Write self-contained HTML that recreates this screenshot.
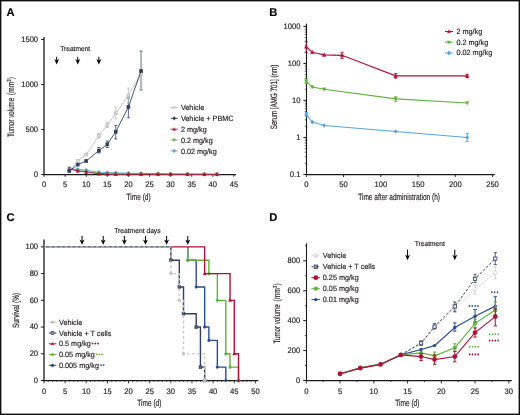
<!DOCTYPE html>
<html><head><meta charset="utf-8"><style>
html,body{margin:0;padding:0;background:#fff;}
body{width:520px;height:415px;overflow:hidden;font-family:"Liberation Sans",sans-serif;}
svg{display:block;will-change:transform;}
text{stroke:#231f20;stroke-width:0.18px;text-rendering:geometricPrecision;}
</style></head><body>
<svg width="520" height="415" viewBox="0 0 520 415" font-family="Liberation Sans, sans-serif">
<rect x="0" y="0" width="520" height="415" fill="#fff"/>
<text x="6.60" y="15.80" font-size="11.2" text-anchor="start" fill="#000" font-weight="bold">A</text>
<line x1="44.00" y1="36.90" x2="44.00" y2="175.10" stroke="#1a1a1a" stroke-width="1.3" />
<line x1="43.40" y1="174.50" x2="236.00" y2="174.50" stroke="#1a1a1a" stroke-width="1.25" />
<line x1="41.20" y1="174.50" x2="44.00" y2="174.50" stroke="#1a1a1a" stroke-width="1" />
<text transform="translate(38.10,176.90) scale(0.95,1)" font-size="8.0" text-anchor="end" fill="#231f20">0</text>
<line x1="41.20" y1="129.50" x2="44.00" y2="129.50" stroke="#1a1a1a" stroke-width="1" />
<text transform="translate(38.10,131.90) scale(0.95,1)" font-size="8.0" text-anchor="end" fill="#231f20">500</text>
<line x1="41.20" y1="84.50" x2="44.00" y2="84.50" stroke="#1a1a1a" stroke-width="1" />
<text transform="translate(38.10,86.90) scale(0.95,1)" font-size="8.0" text-anchor="end" fill="#231f20">1000</text>
<line x1="41.20" y1="39.50" x2="44.00" y2="39.50" stroke="#1a1a1a" stroke-width="1" />
<text transform="translate(38.10,41.90) scale(0.95,1)" font-size="8.0" text-anchor="end" fill="#231f20">1500</text>
<line x1="44.00" y1="174.50" x2="44.00" y2="176.80" stroke="#1a1a1a" stroke-width="0.9" />
<text transform="translate(44.00,186.90) scale(0.95,1)" font-size="8.0" text-anchor="middle" fill="#231f20">0</text>
<line x1="65.10" y1="174.50" x2="65.10" y2="176.80" stroke="#1a1a1a" stroke-width="0.9" />
<text transform="translate(65.10,186.90) scale(0.95,1)" font-size="8.0" text-anchor="middle" fill="#231f20">5</text>
<line x1="86.20" y1="174.50" x2="86.20" y2="176.80" stroke="#1a1a1a" stroke-width="0.9" />
<text transform="translate(86.20,186.90) scale(0.95,1)" font-size="8.0" text-anchor="middle" fill="#231f20">10</text>
<line x1="107.30" y1="174.50" x2="107.30" y2="176.80" stroke="#1a1a1a" stroke-width="0.9" />
<text transform="translate(107.30,186.90) scale(0.95,1)" font-size="8.0" text-anchor="middle" fill="#231f20">15</text>
<line x1="128.40" y1="174.50" x2="128.40" y2="176.80" stroke="#1a1a1a" stroke-width="0.9" />
<text transform="translate(128.40,186.90) scale(0.95,1)" font-size="8.0" text-anchor="middle" fill="#231f20">20</text>
<line x1="149.50" y1="174.50" x2="149.50" y2="176.80" stroke="#1a1a1a" stroke-width="0.9" />
<text transform="translate(149.50,186.90) scale(0.95,1)" font-size="8.0" text-anchor="middle" fill="#231f20">25</text>
<line x1="170.60" y1="174.50" x2="170.60" y2="176.80" stroke="#1a1a1a" stroke-width="0.9" />
<text transform="translate(170.60,186.90) scale(0.95,1)" font-size="8.0" text-anchor="middle" fill="#231f20">30</text>
<line x1="191.70" y1="174.50" x2="191.70" y2="176.80" stroke="#1a1a1a" stroke-width="0.9" />
<text transform="translate(191.70,186.90) scale(0.95,1)" font-size="8.0" text-anchor="middle" fill="#231f20">35</text>
<line x1="212.80" y1="174.50" x2="212.80" y2="176.80" stroke="#1a1a1a" stroke-width="0.9" />
<text transform="translate(212.80,186.90) scale(0.95,1)" font-size="8.0" text-anchor="middle" fill="#231f20">40</text>
<line x1="233.90" y1="174.50" x2="233.90" y2="176.80" stroke="#1a1a1a" stroke-width="0.9" />
<text transform="translate(233.90,186.90) scale(0.95,1)" font-size="8.0" text-anchor="middle" fill="#231f20">45</text>
<text transform="translate(138.60,199.80) scale(0.715,1)" font-size="9.2" text-anchor="middle" fill="#231f20">Time (d)</text>
<text transform="translate(14.10,137.00) rotate(-90) scale(0.67,1)" font-size="9.2" fill="#231f20">Tumor volume</text>
<text transform="translate(14.10,95.30) rotate(-90) scale(0.74,1)" font-size="9.2" fill="#231f20">(mm<tspan font-size="5.8" dy="-3.6">3</tspan><tspan dy="3.6">)</tspan></text>
<text x="60.20" y="51.20" font-size="7.0" text-anchor="start" fill="#231f20" textLength="30" lengthAdjust="spacingAndGlyphs">Treatment</text>
<line x1="56.66" y1="56.80" x2="56.66" y2="61.40" stroke="#000" stroke-width="1.0" />
<polygon points="54.16,59.00 56.66,60.50 59.16,59.00 56.66,64.40" fill="#000"/>
<line x1="77.76" y1="56.80" x2="77.76" y2="61.40" stroke="#000" stroke-width="1.0" />
<polygon points="75.26,59.00 77.76,60.50 80.26,59.00 77.76,64.40" fill="#000"/>
<line x1="98.86" y1="56.80" x2="98.86" y2="61.40" stroke="#000" stroke-width="1.0" />
<polygon points="96.36,59.00 98.86,60.50 101.36,59.00 98.86,64.40" fill="#000"/>
<polyline points="69.32,168.92 77.76,169.28 86.20,170.18 98.86,172.25 107.30,172.52 115.74,172.70 128.40,173.15 141.06,173.42 157.94,173.60 170.60,173.96 187.48,174.14 204.36,174.23 217.02,174.23" fill="none" stroke="#58a3dc" stroke-width="0.9" stroke-linejoin="miter" />
<polygon points="69.32,167.12 70.82,168.92 69.32,170.72 67.82,168.92" fill="#58a3dc" stroke="#58a3dc" stroke-width="0.8"/>
<polygon points="77.76,167.48 79.26,169.28 77.76,171.08 76.26,169.28" fill="#58a3dc" stroke="#58a3dc" stroke-width="0.8"/>
<polygon points="86.20,168.38 87.70,170.18 86.20,171.98 84.70,170.18" fill="#58a3dc" stroke="#58a3dc" stroke-width="0.8"/>
<polygon points="98.86,170.45 100.36,172.25 98.86,174.05 97.36,172.25" fill="#58a3dc" stroke="#58a3dc" stroke-width="0.8"/>
<polygon points="107.30,170.72 108.80,172.52 107.30,174.32 105.80,172.52" fill="#58a3dc" stroke="#58a3dc" stroke-width="0.8"/>
<polygon points="115.74,170.90 117.24,172.70 115.74,174.50 114.24,172.70" fill="#58a3dc" stroke="#58a3dc" stroke-width="0.8"/>
<polygon points="128.40,171.35 129.90,173.15 128.40,174.95 126.90,173.15" fill="#58a3dc" stroke="#58a3dc" stroke-width="0.8"/>
<polygon points="141.06,171.62 142.56,173.42 141.06,175.22 139.56,173.42" fill="#58a3dc" stroke="#58a3dc" stroke-width="0.8"/>
<polygon points="157.94,171.80 159.44,173.60 157.94,175.40 156.44,173.60" fill="#58a3dc" stroke="#58a3dc" stroke-width="0.8"/>
<polygon points="170.60,172.16 172.10,173.96 170.60,175.76 169.10,173.96" fill="#58a3dc" stroke="#58a3dc" stroke-width="0.8"/>
<polygon points="187.48,172.34 188.98,174.14 187.48,175.94 185.98,174.14" fill="#58a3dc" stroke="#58a3dc" stroke-width="0.8"/>
<polygon points="204.36,172.43 205.86,174.23 204.36,176.03 202.86,174.23" fill="#58a3dc" stroke="#58a3dc" stroke-width="0.8"/>
<polygon points="217.02,172.43 218.52,174.23 217.02,176.03 215.52,174.23" fill="#58a3dc" stroke="#58a3dc" stroke-width="0.8"/>
<polyline points="69.32,168.02 77.76,170.45 86.20,171.80 98.86,173.42 107.30,173.78 115.74,173.96 128.40,174.05 141.06,174.05 157.94,174.14 170.60,174.23 187.48,174.23 204.36,174.32 217.02,174.32" fill="none" stroke="#62b03f" stroke-width="0.9" stroke-linejoin="miter" />
<polygon points="69.32,169.89 71.02,166.66 67.62,166.66" fill="#62b03f" stroke="#62b03f" stroke-width="0.4"/>
<polygon points="77.76,172.32 79.46,169.09 76.06,169.09" fill="#62b03f" stroke="#62b03f" stroke-width="0.4"/>
<polygon points="86.20,173.67 87.90,170.44 84.50,170.44" fill="#62b03f" stroke="#62b03f" stroke-width="0.4"/>
<polygon points="98.86,175.29 100.56,172.06 97.16,172.06" fill="#62b03f" stroke="#62b03f" stroke-width="0.4"/>
<polygon points="107.30,175.65 109.00,172.42 105.60,172.42" fill="#62b03f" stroke="#62b03f" stroke-width="0.4"/>
<polygon points="115.74,175.83 117.44,172.60 114.04,172.60" fill="#62b03f" stroke="#62b03f" stroke-width="0.4"/>
<polygon points="128.40,175.92 130.10,172.69 126.70,172.69" fill="#62b03f" stroke="#62b03f" stroke-width="0.4"/>
<polygon points="141.06,175.92 142.76,172.69 139.36,172.69" fill="#62b03f" stroke="#62b03f" stroke-width="0.4"/>
<polygon points="157.94,176.01 159.64,172.78 156.24,172.78" fill="#62b03f" stroke="#62b03f" stroke-width="0.4"/>
<polygon points="170.60,176.10 172.30,172.87 168.90,172.87" fill="#62b03f" stroke="#62b03f" stroke-width="0.4"/>
<polygon points="187.48,176.10 189.18,172.87 185.78,172.87" fill="#62b03f" stroke="#62b03f" stroke-width="0.4"/>
<polygon points="204.36,176.19 206.06,172.96 202.66,172.96" fill="#62b03f" stroke="#62b03f" stroke-width="0.4"/>
<polygon points="217.02,176.19 218.72,172.96 215.32,172.96" fill="#62b03f" stroke="#62b03f" stroke-width="0.4"/>
<polyline points="69.32,168.92 77.76,170.90 86.20,171.98 98.86,173.78 107.30,174.14 115.74,174.23 128.40,174.32 141.06,174.32 157.94,174.32 170.60,174.32 187.48,174.32 204.36,174.32 217.02,174.32" fill="none" stroke="#ad1238" stroke-width="0.9" stroke-linejoin="miter" />
<polygon points="69.32,166.94 71.12,170.36 67.52,170.36" fill="#ad1238" stroke="#ad1238" stroke-width="0.4"/>
<polygon points="77.76,168.92 79.56,172.34 75.96,172.34" fill="#ad1238" stroke="#ad1238" stroke-width="0.4"/>
<polygon points="86.20,170.00 88.00,173.42 84.40,173.42" fill="#ad1238" stroke="#ad1238" stroke-width="0.4"/>
<polygon points="98.86,171.80 100.66,175.22 97.06,175.22" fill="#ad1238" stroke="#ad1238" stroke-width="0.4"/>
<polygon points="107.30,172.16 109.10,175.58 105.50,175.58" fill="#ad1238" stroke="#ad1238" stroke-width="0.4"/>
<polygon points="115.74,172.25 117.54,175.67 113.94,175.67" fill="#ad1238" stroke="#ad1238" stroke-width="0.4"/>
<polygon points="128.40,172.34 130.20,175.76 126.60,175.76" fill="#ad1238" stroke="#ad1238" stroke-width="0.4"/>
<polygon points="141.06,172.34 142.86,175.76 139.26,175.76" fill="#ad1238" stroke="#ad1238" stroke-width="0.4"/>
<polygon points="157.94,172.34 159.74,175.76 156.14,175.76" fill="#ad1238" stroke="#ad1238" stroke-width="0.4"/>
<polygon points="170.60,172.34 172.40,175.76 168.80,175.76" fill="#ad1238" stroke="#ad1238" stroke-width="0.4"/>
<polygon points="187.48,172.34 189.28,175.76 185.68,175.76" fill="#ad1238" stroke="#ad1238" stroke-width="0.4"/>
<polygon points="204.36,172.34 206.16,175.76 202.56,175.76" fill="#ad1238" stroke="#ad1238" stroke-width="0.4"/>
<polygon points="217.02,172.34 218.82,175.76 215.22,175.76" fill="#ad1238" stroke="#ad1238" stroke-width="0.4"/>
<line x1="98.86" y1="147.50" x2="98.86" y2="152.90" stroke="#333f5e" stroke-width="0.8" />
<line x1="97.36" y1="147.50" x2="100.36" y2="147.50" stroke="#333f5e" stroke-width="0.8" />
<line x1="97.36" y1="152.90" x2="100.36" y2="152.90" stroke="#333f5e" stroke-width="0.8" />
<line x1="107.30" y1="141.20" x2="107.30" y2="147.50" stroke="#333f5e" stroke-width="0.8" />
<line x1="105.80" y1="141.20" x2="108.80" y2="141.20" stroke="#333f5e" stroke-width="0.8" />
<line x1="105.80" y1="147.50" x2="108.80" y2="147.50" stroke="#333f5e" stroke-width="0.8" />
<line x1="115.74" y1="125.45" x2="115.74" y2="138.95" stroke="#333f5e" stroke-width="0.8" />
<line x1="114.24" y1="125.45" x2="117.24" y2="125.45" stroke="#333f5e" stroke-width="0.8" />
<line x1="114.24" y1="138.95" x2="117.24" y2="138.95" stroke="#333f5e" stroke-width="0.8" />
<line x1="128.40" y1="98.00" x2="128.40" y2="117.80" stroke="#333f5e" stroke-width="0.8" />
<line x1="126.90" y1="98.00" x2="129.90" y2="98.00" stroke="#333f5e" stroke-width="0.8" />
<line x1="126.90" y1="117.80" x2="129.90" y2="117.80" stroke="#333f5e" stroke-width="0.8" />
<line x1="141.06" y1="51.20" x2="141.06" y2="89.90" stroke="#333f5e" stroke-width="0.8" />
<line x1="139.56" y1="51.20" x2="142.56" y2="51.20" stroke="#333f5e" stroke-width="0.8" />
<line x1="139.56" y1="89.90" x2="142.56" y2="89.90" stroke="#333f5e" stroke-width="0.8" />
<line x1="98.86" y1="133.55" x2="98.86" y2="138.05" stroke="#bdbdbd" stroke-width="0.8" />
<line x1="97.36" y1="133.55" x2="100.36" y2="133.55" stroke="#bdbdbd" stroke-width="0.8" />
<line x1="97.36" y1="138.05" x2="100.36" y2="138.05" stroke="#bdbdbd" stroke-width="0.8" />
<line x1="107.30" y1="122.30" x2="107.30" y2="127.70" stroke="#bdbdbd" stroke-width="0.8" />
<line x1="105.80" y1="122.30" x2="108.80" y2="122.30" stroke="#bdbdbd" stroke-width="0.8" />
<line x1="105.80" y1="127.70" x2="108.80" y2="127.70" stroke="#bdbdbd" stroke-width="0.8" />
<line x1="115.74" y1="107.00" x2="115.74" y2="118.70" stroke="#bdbdbd" stroke-width="0.8" />
<line x1="114.24" y1="107.00" x2="117.24" y2="107.00" stroke="#bdbdbd" stroke-width="0.8" />
<line x1="114.24" y1="118.70" x2="117.24" y2="118.70" stroke="#bdbdbd" stroke-width="0.8" />
<line x1="128.40" y1="88.10" x2="128.40" y2="103.40" stroke="#bdbdbd" stroke-width="0.8" />
<line x1="126.90" y1="88.10" x2="129.90" y2="88.10" stroke="#bdbdbd" stroke-width="0.8" />
<line x1="126.90" y1="103.40" x2="129.90" y2="103.40" stroke="#bdbdbd" stroke-width="0.8" />
<line x1="141.06" y1="50.30" x2="141.06" y2="90.80" stroke="#bdbdbd" stroke-width="0.8" />
<line x1="139.56" y1="50.30" x2="142.56" y2="50.30" stroke="#bdbdbd" stroke-width="0.8" />
<line x1="139.56" y1="90.80" x2="142.56" y2="90.80" stroke="#bdbdbd" stroke-width="0.8" />
<polyline points="69.32,170.45 77.76,161.00 86.20,154.52 98.86,135.80 107.30,125.00 115.74,113.30 128.40,95.30 141.06,73.70" fill="none" stroke="#bdbdbd" stroke-width="0.9" stroke-linejoin="miter" />
<rect x="67.92" y="169.05" width="2.80" height="2.80" fill="#dcdcdc" stroke="#bdbdbd" stroke-width="0.8"/>
<rect x="76.36" y="159.60" width="2.80" height="2.80" fill="#dcdcdc" stroke="#bdbdbd" stroke-width="0.8"/>
<rect x="84.80" y="153.12" width="2.80" height="2.80" fill="#dcdcdc" stroke="#bdbdbd" stroke-width="0.8"/>
<rect x="97.46" y="134.40" width="2.80" height="2.80" fill="#dcdcdc" stroke="#bdbdbd" stroke-width="0.8"/>
<rect x="105.90" y="123.60" width="2.80" height="2.80" fill="#dcdcdc" stroke="#bdbdbd" stroke-width="0.8"/>
<rect x="114.34" y="111.90" width="2.80" height="2.80" fill="#dcdcdc" stroke="#bdbdbd" stroke-width="0.8"/>
<rect x="127.00" y="93.90" width="2.80" height="2.80" fill="#dcdcdc" stroke="#bdbdbd" stroke-width="0.8"/>
<rect x="139.66" y="72.30" width="2.80" height="2.80" fill="#dcdcdc" stroke="#bdbdbd" stroke-width="0.8"/>
<polyline points="69.32,170.90 77.76,164.60 86.20,161.00 98.86,150.65 107.30,144.35 115.74,131.75 128.40,107.00 141.06,71.00" fill="none" stroke="#333f5e" stroke-width="0.9" stroke-linejoin="miter" />
<rect x="67.92" y="169.50" width="2.80" height="2.80" fill="#333f5e" stroke="#333f5e" stroke-width="0.8"/>
<rect x="76.36" y="163.20" width="2.80" height="2.80" fill="#333f5e" stroke="#333f5e" stroke-width="0.8"/>
<rect x="84.80" y="159.60" width="2.80" height="2.80" fill="#333f5e" stroke="#333f5e" stroke-width="0.8"/>
<rect x="97.46" y="149.25" width="2.80" height="2.80" fill="#333f5e" stroke="#333f5e" stroke-width="0.8"/>
<rect x="105.90" y="142.95" width="2.80" height="2.80" fill="#333f5e" stroke="#333f5e" stroke-width="0.8"/>
<rect x="114.34" y="130.35" width="2.80" height="2.80" fill="#333f5e" stroke="#333f5e" stroke-width="0.8"/>
<rect x="127.00" y="105.60" width="2.80" height="2.80" fill="#333f5e" stroke="#333f5e" stroke-width="0.8"/>
<rect x="139.66" y="69.60" width="2.80" height="2.80" fill="#333f5e" stroke="#333f5e" stroke-width="0.8"/>
<line x1="170.60" y1="107.50" x2="177.80" y2="107.50" stroke="#bdbdbd" stroke-width="0.9" />
<polygon points="174.20,105.70 175.70,107.50 174.20,109.30 172.70,107.50" fill="#dcdcdc" stroke="#bdbdbd" stroke-width="0.5"/>
<text transform="translate(180.90,110.40) scale(0.955,1)" font-size="7.6" fill="#231f20">Vehicle</text>
<line x1="170.60" y1="118.35" x2="177.80" y2="118.35" stroke="#333f5e" stroke-width="0.9" />
<polygon points="174.20,116.55 175.70,118.35 174.20,120.15 172.70,118.35" fill="#333f5e" stroke="#333f5e" stroke-width="0.5"/>
<text transform="translate(180.90,121.25) scale(0.955,1)" font-size="7.6" fill="#231f20">Vehicle + PBMC</text>
<line x1="170.60" y1="129.20" x2="177.80" y2="129.20" stroke="#ad1238" stroke-width="0.9" />
<polygon points="174.20,127.55 175.70,130.40 172.70,130.40" fill="#ad1238" stroke="#ad1238" stroke-width="0.25"/>
<text transform="translate(180.90,132.10) scale(0.955,1)" font-size="7.6" fill="#231f20">2 mg/kg</text>
<line x1="170.60" y1="140.05" x2="177.80" y2="140.05" stroke="#62b03f" stroke-width="0.9" />
<polygon points="174.20,141.70 175.70,138.85 172.70,138.85" fill="#62b03f" stroke="#62b03f" stroke-width="0.25"/>
<text transform="translate(180.90,142.95) scale(0.955,1)" font-size="7.6" fill="#231f20">0.2 mg/kg</text>
<line x1="170.60" y1="150.90" x2="177.80" y2="150.90" stroke="#58a3dc" stroke-width="0.9" />
<polygon points="174.20,149.10 175.70,150.90 174.20,152.70 172.70,150.90" fill="#58a3dc" stroke="#58a3dc" stroke-width="0.5"/>
<text transform="translate(180.90,153.80) scale(0.955,1)" font-size="7.6" fill="#231f20">0.02 mg/kg</text>
<text x="269.30" y="15.80" font-size="11.2" text-anchor="start" fill="#000" font-weight="bold">B</text>
<line x1="306.50" y1="23.70" x2="306.50" y2="175.10" stroke="#1a1a1a" stroke-width="1.1" />
<line x1="305.90" y1="174.50" x2="494.80" y2="174.50" stroke="#1a1a1a" stroke-width="1.25" />
<line x1="303.40" y1="174.48" x2="306.50" y2="174.48" stroke="#1a1a1a" stroke-width="1" />
<text transform="translate(300.40,176.88) scale(0.95,1)" font-size="8.0" text-anchor="end" fill="#231f20">0.1</text>
<line x1="304.80" y1="163.33" x2="306.50" y2="163.33" stroke="#1a1a1a" stroke-width="0.7" />
<line x1="304.80" y1="156.81" x2="306.50" y2="156.81" stroke="#1a1a1a" stroke-width="0.7" />
<line x1="304.80" y1="152.19" x2="306.50" y2="152.19" stroke="#1a1a1a" stroke-width="0.7" />
<line x1="304.80" y1="148.60" x2="306.50" y2="148.60" stroke="#1a1a1a" stroke-width="0.7" />
<line x1="304.80" y1="145.67" x2="306.50" y2="145.67" stroke="#1a1a1a" stroke-width="0.7" />
<line x1="304.80" y1="143.19" x2="306.50" y2="143.19" stroke="#1a1a1a" stroke-width="0.7" />
<line x1="304.80" y1="141.04" x2="306.50" y2="141.04" stroke="#1a1a1a" stroke-width="0.7" />
<line x1="304.80" y1="139.14" x2="306.50" y2="139.14" stroke="#1a1a1a" stroke-width="0.7" />
<line x1="303.40" y1="137.45" x2="306.50" y2="137.45" stroke="#1a1a1a" stroke-width="1" />
<text transform="translate(300.40,139.85) scale(0.95,1)" font-size="8.0" text-anchor="end" fill="#231f20">1</text>
<line x1="304.80" y1="126.30" x2="306.50" y2="126.30" stroke="#1a1a1a" stroke-width="0.7" />
<line x1="304.80" y1="119.78" x2="306.50" y2="119.78" stroke="#1a1a1a" stroke-width="0.7" />
<line x1="304.80" y1="115.16" x2="306.50" y2="115.16" stroke="#1a1a1a" stroke-width="0.7" />
<line x1="304.80" y1="111.57" x2="306.50" y2="111.57" stroke="#1a1a1a" stroke-width="0.7" />
<line x1="304.80" y1="108.64" x2="306.50" y2="108.64" stroke="#1a1a1a" stroke-width="0.7" />
<line x1="304.80" y1="106.16" x2="306.50" y2="106.16" stroke="#1a1a1a" stroke-width="0.7" />
<line x1="304.80" y1="104.01" x2="306.50" y2="104.01" stroke="#1a1a1a" stroke-width="0.7" />
<line x1="304.80" y1="102.11" x2="306.50" y2="102.11" stroke="#1a1a1a" stroke-width="0.7" />
<line x1="303.40" y1="100.42" x2="306.50" y2="100.42" stroke="#1a1a1a" stroke-width="1" />
<text transform="translate(300.40,102.82) scale(0.95,1)" font-size="8.0" text-anchor="end" fill="#231f20">10</text>
<line x1="304.80" y1="89.27" x2="306.50" y2="89.27" stroke="#1a1a1a" stroke-width="0.7" />
<line x1="304.80" y1="82.75" x2="306.50" y2="82.75" stroke="#1a1a1a" stroke-width="0.7" />
<line x1="304.80" y1="78.13" x2="306.50" y2="78.13" stroke="#1a1a1a" stroke-width="0.7" />
<line x1="304.80" y1="74.54" x2="306.50" y2="74.54" stroke="#1a1a1a" stroke-width="0.7" />
<line x1="304.80" y1="71.61" x2="306.50" y2="71.61" stroke="#1a1a1a" stroke-width="0.7" />
<line x1="304.80" y1="69.13" x2="306.50" y2="69.13" stroke="#1a1a1a" stroke-width="0.7" />
<line x1="304.80" y1="66.98" x2="306.50" y2="66.98" stroke="#1a1a1a" stroke-width="0.7" />
<line x1="304.80" y1="65.08" x2="306.50" y2="65.08" stroke="#1a1a1a" stroke-width="0.7" />
<line x1="303.40" y1="63.39" x2="306.50" y2="63.39" stroke="#1a1a1a" stroke-width="1" />
<text transform="translate(300.40,65.79) scale(0.95,1)" font-size="8.0" text-anchor="end" fill="#231f20">100</text>
<line x1="304.80" y1="52.24" x2="306.50" y2="52.24" stroke="#1a1a1a" stroke-width="0.7" />
<line x1="304.80" y1="45.72" x2="306.50" y2="45.72" stroke="#1a1a1a" stroke-width="0.7" />
<line x1="304.80" y1="41.10" x2="306.50" y2="41.10" stroke="#1a1a1a" stroke-width="0.7" />
<line x1="304.80" y1="37.51" x2="306.50" y2="37.51" stroke="#1a1a1a" stroke-width="0.7" />
<line x1="304.80" y1="34.58" x2="306.50" y2="34.58" stroke="#1a1a1a" stroke-width="0.7" />
<line x1="304.80" y1="32.10" x2="306.50" y2="32.10" stroke="#1a1a1a" stroke-width="0.7" />
<line x1="304.80" y1="29.95" x2="306.50" y2="29.95" stroke="#1a1a1a" stroke-width="0.7" />
<line x1="304.80" y1="28.05" x2="306.50" y2="28.05" stroke="#1a1a1a" stroke-width="0.7" />
<line x1="303.40" y1="26.36" x2="306.50" y2="26.36" stroke="#1a1a1a" stroke-width="1" />
<text transform="translate(300.40,28.76) scale(0.95,1)" font-size="8.0" text-anchor="end" fill="#231f20">1000</text>
<line x1="306.30" y1="174.50" x2="306.30" y2="177.10" stroke="#1a1a1a" stroke-width="0.9" />
<text transform="translate(306.30,186.90) scale(0.95,1)" font-size="8.0" text-anchor="middle" fill="#231f20">0</text>
<line x1="343.54" y1="174.50" x2="343.54" y2="177.10" stroke="#1a1a1a" stroke-width="0.9" />
<text transform="translate(343.54,186.90) scale(0.95,1)" font-size="8.0" text-anchor="middle" fill="#231f20">50</text>
<line x1="380.78" y1="174.50" x2="380.78" y2="177.10" stroke="#1a1a1a" stroke-width="0.9" />
<text transform="translate(380.78,186.90) scale(0.95,1)" font-size="8.0" text-anchor="middle" fill="#231f20">100</text>
<line x1="418.02" y1="174.50" x2="418.02" y2="177.10" stroke="#1a1a1a" stroke-width="0.9" />
<text transform="translate(418.02,186.90) scale(0.95,1)" font-size="8.0" text-anchor="middle" fill="#231f20">150</text>
<line x1="455.26" y1="174.50" x2="455.26" y2="177.10" stroke="#1a1a1a" stroke-width="0.9" />
<text transform="translate(455.26,186.90) scale(0.95,1)" font-size="8.0" text-anchor="middle" fill="#231f20">200</text>
<line x1="492.50" y1="174.50" x2="492.50" y2="177.10" stroke="#1a1a1a" stroke-width="0.9" />
<text transform="translate(492.50,186.90) scale(0.95,1)" font-size="8.0" text-anchor="middle" fill="#231f20">250</text>
<text transform="translate(399.10,199.80) scale(0.715,1)" font-size="9.2" text-anchor="middle" fill="#231f20">Time after administration (h)</text>
<text transform="translate(277.2,97) rotate(-90) scale(0.68,1)" font-size="9.2" text-anchor="middle" fill="#231f20">Serum [AMG 701] (nm)</text>
<polyline points="306.30,114.37 312.26,122.08 324.18,125.52 395.68,131.47 467.18,137.45" fill="none" stroke="#58a3dc" stroke-width="1.1" stroke-linejoin="miter" />
<line x1="306.30" y1="112.56" x2="306.30" y2="115.98" stroke="#58a3dc" stroke-width="0.9" />
<line x1="304.70" y1="112.56" x2="307.90" y2="112.56" stroke="#58a3dc" stroke-width="0.9" />
<line x1="304.70" y1="115.98" x2="307.90" y2="115.98" stroke="#58a3dc" stroke-width="0.9" />
<line x1="467.18" y1="133.48" x2="467.18" y2="141.45" stroke="#58a3dc" stroke-width="0.9" />
<line x1="465.58" y1="133.48" x2="468.78" y2="133.48" stroke="#58a3dc" stroke-width="0.9" />
<line x1="465.58" y1="141.45" x2="468.78" y2="141.45" stroke="#58a3dc" stroke-width="0.9" />
<polygon points="306.30,112.57 307.80,114.37 306.30,116.17 304.80,114.37" fill="#58a3dc" stroke="#58a3dc" stroke-width="0.8"/>
<polygon points="312.26,120.28 313.76,122.08 312.26,123.88 310.76,122.08" fill="#58a3dc" stroke="#58a3dc" stroke-width="0.8"/>
<polygon points="324.18,123.72 325.68,125.52 324.18,127.32 322.68,125.52" fill="#58a3dc" stroke="#58a3dc" stroke-width="0.8"/>
<polygon points="395.68,129.67 397.18,131.47 395.68,133.27 394.18,131.47" fill="#58a3dc" stroke="#58a3dc" stroke-width="0.8"/>
<polygon points="467.18,135.65 468.68,137.45 467.18,139.25 465.68,137.45" fill="#58a3dc" stroke="#58a3dc" stroke-width="0.8"/>
<polyline points="306.30,81.22 312.26,87.03 324.18,89.27 395.68,98.89 467.18,103.03" fill="none" stroke="#62b03f" stroke-width="1.1" stroke-linejoin="miter" />
<line x1="306.30" y1="78.95" x2="306.30" y2="83.86" stroke="#62b03f" stroke-width="0.9" />
<line x1="304.70" y1="78.95" x2="307.90" y2="78.95" stroke="#62b03f" stroke-width="0.9" />
<line x1="304.70" y1="83.86" x2="307.90" y2="83.86" stroke="#62b03f" stroke-width="0.9" />
<line x1="395.68" y1="96.83" x2="395.68" y2="101.24" stroke="#62b03f" stroke-width="0.9" />
<line x1="394.08" y1="96.83" x2="397.28" y2="96.83" stroke="#62b03f" stroke-width="0.9" />
<line x1="394.08" y1="101.24" x2="397.28" y2="101.24" stroke="#62b03f" stroke-width="0.9" />
<polygon points="306.30,83.20 308.10,79.78 304.50,79.78" fill="#62b03f" stroke="#62b03f" stroke-width="0.4"/>
<polygon points="312.26,89.01 314.06,85.59 310.46,85.59" fill="#62b03f" stroke="#62b03f" stroke-width="0.4"/>
<polygon points="324.18,91.25 325.98,87.83 322.38,87.83" fill="#62b03f" stroke="#62b03f" stroke-width="0.4"/>
<polygon points="395.68,100.87 397.48,97.45 393.88,97.45" fill="#62b03f" stroke="#62b03f" stroke-width="0.4"/>
<polygon points="467.18,105.01 468.98,101.59 465.38,101.59" fill="#62b03f" stroke="#62b03f" stroke-width="0.4"/>
<polyline points="306.30,46.83 312.26,52.24 324.18,54.86 342.05,55.34 395.68,75.88 467.18,75.88" fill="none" stroke="#ad1238" stroke-width="1.1" stroke-linejoin="miter" />
<line x1="306.30" y1="41.92" x2="306.30" y2="52.24" stroke="#ad1238" stroke-width="0.9" />
<line x1="304.70" y1="41.92" x2="307.90" y2="41.92" stroke="#ad1238" stroke-width="0.9" />
<line x1="304.70" y1="52.24" x2="307.90" y2="52.24" stroke="#ad1238" stroke-width="0.9" />
<line x1="342.05" y1="52.24" x2="342.05" y2="58.56" stroke="#ad1238" stroke-width="0.9" />
<line x1="340.45" y1="52.24" x2="343.65" y2="52.24" stroke="#ad1238" stroke-width="0.9" />
<line x1="340.45" y1="58.56" x2="343.65" y2="58.56" stroke="#ad1238" stroke-width="0.9" />
<line x1="395.68" y1="73.60" x2="395.68" y2="78.13" stroke="#ad1238" stroke-width="0.9" />
<line x1="394.08" y1="73.60" x2="397.28" y2="73.60" stroke="#ad1238" stroke-width="0.9" />
<line x1="394.08" y1="78.13" x2="397.28" y2="78.13" stroke="#ad1238" stroke-width="0.9" />
<line x1="467.18" y1="74.22" x2="467.18" y2="77.73" stroke="#ad1238" stroke-width="0.9" />
<line x1="465.58" y1="74.22" x2="468.78" y2="74.22" stroke="#ad1238" stroke-width="0.9" />
<line x1="465.58" y1="77.73" x2="468.78" y2="77.73" stroke="#ad1238" stroke-width="0.9" />
<polygon points="306.30,44.74 308.20,48.35 304.40,48.35" fill="#ad1238" stroke="#ad1238" stroke-width="0.4"/>
<polygon points="312.26,50.15 314.16,53.76 310.36,53.76" fill="#ad1238" stroke="#ad1238" stroke-width="0.4"/>
<polygon points="324.18,52.77 326.08,56.38 322.28,56.38" fill="#ad1238" stroke="#ad1238" stroke-width="0.4"/>
<polygon points="342.05,53.25 343.95,56.86 340.15,56.86" fill="#ad1238" stroke="#ad1238" stroke-width="0.4"/>
<polygon points="395.68,73.79 397.58,77.40 393.78,77.40" fill="#ad1238" stroke="#ad1238" stroke-width="0.4"/>
<polygon points="467.18,73.79 469.08,77.40 465.28,77.40" fill="#ad1238" stroke="#ad1238" stroke-width="0.4"/>
<line x1="445.00" y1="31.50" x2="453.00" y2="31.50" stroke="#ad1238" stroke-width="1.0" />
<polygon points="449.00,29.74 450.60,32.78 447.40,32.78" fill="#ad1238" stroke="#ad1238" stroke-width="0.4"/>
<text transform="translate(456.40,33.80) scale(0.955,1)" font-size="7.6" fill="#231f20">2 mg/kg</text>
<line x1="445.00" y1="42.25" x2="453.00" y2="42.25" stroke="#62b03f" stroke-width="1.0" />
<polygon points="449.00,44.01 450.60,40.97 447.40,40.97" fill="#62b03f" stroke="#62b03f" stroke-width="0.4"/>
<text transform="translate(456.40,44.55) scale(0.955,1)" font-size="7.6" fill="#231f20">0.2 mg/kg</text>
<line x1="445.00" y1="53.00" x2="453.00" y2="53.00" stroke="#58a3dc" stroke-width="1.0" />
<polygon points="449.00,51.08 450.60,53.00 449.00,54.92 447.40,53.00" fill="#58a3dc" stroke="#58a3dc" stroke-width="0.8"/>
<text transform="translate(456.40,55.30) scale(0.955,1)" font-size="7.6" fill="#231f20">0.02 mg/kg</text>
<text x="6.60" y="221.20" font-size="11.2" text-anchor="start" fill="#000" font-weight="bold">C</text>
<line x1="44.00" y1="239.60" x2="44.00" y2="381.10" stroke="#1a1a1a" stroke-width="1.3" />
<line x1="43.40" y1="380.50" x2="258.30" y2="380.50" stroke="#1a1a1a" stroke-width="1.25" />
<line x1="40.90" y1="380.50" x2="44.00" y2="380.50" stroke="#1a1a1a" stroke-width="1" />
<text transform="translate(38.10,382.90) scale(0.95,1)" font-size="8.0" text-anchor="end" fill="#231f20">0</text>
<line x1="40.90" y1="353.78" x2="44.00" y2="353.78" stroke="#1a1a1a" stroke-width="1" />
<text transform="translate(38.10,356.18) scale(0.95,1)" font-size="8.0" text-anchor="end" fill="#231f20">20</text>
<line x1="40.90" y1="327.06" x2="44.00" y2="327.06" stroke="#1a1a1a" stroke-width="1" />
<text transform="translate(38.10,329.46) scale(0.95,1)" font-size="8.0" text-anchor="end" fill="#231f20">40</text>
<line x1="40.90" y1="300.34" x2="44.00" y2="300.34" stroke="#1a1a1a" stroke-width="1" />
<text transform="translate(38.10,302.74) scale(0.95,1)" font-size="8.0" text-anchor="end" fill="#231f20">60</text>
<line x1="40.90" y1="273.62" x2="44.00" y2="273.62" stroke="#1a1a1a" stroke-width="1" />
<text transform="translate(38.10,276.02) scale(0.95,1)" font-size="8.0" text-anchor="end" fill="#231f20">80</text>
<line x1="40.90" y1="246.90" x2="44.00" y2="246.90" stroke="#1a1a1a" stroke-width="1" />
<text transform="translate(38.10,249.30) scale(0.95,1)" font-size="8.0" text-anchor="end" fill="#231f20">100</text>
<line x1="44.00" y1="380.50" x2="44.00" y2="383.30" stroke="#1a1a1a" stroke-width="0.9" />
<line x1="48.23" y1="380.50" x2="48.23" y2="381.80" stroke="#1a1a1a" stroke-width="0.8" />
<line x1="52.46" y1="380.50" x2="52.46" y2="381.80" stroke="#1a1a1a" stroke-width="0.8" />
<line x1="56.68" y1="380.50" x2="56.68" y2="381.80" stroke="#1a1a1a" stroke-width="0.8" />
<line x1="60.91" y1="380.50" x2="60.91" y2="381.80" stroke="#1a1a1a" stroke-width="0.8" />
<line x1="65.14" y1="380.50" x2="65.14" y2="383.30" stroke="#1a1a1a" stroke-width="0.9" />
<line x1="69.37" y1="380.50" x2="69.37" y2="381.80" stroke="#1a1a1a" stroke-width="0.8" />
<line x1="73.60" y1="380.50" x2="73.60" y2="381.80" stroke="#1a1a1a" stroke-width="0.8" />
<line x1="77.82" y1="380.50" x2="77.82" y2="381.80" stroke="#1a1a1a" stroke-width="0.8" />
<line x1="82.05" y1="380.50" x2="82.05" y2="381.80" stroke="#1a1a1a" stroke-width="0.8" />
<line x1="86.28" y1="380.50" x2="86.28" y2="383.30" stroke="#1a1a1a" stroke-width="0.9" />
<line x1="90.51" y1="380.50" x2="90.51" y2="381.80" stroke="#1a1a1a" stroke-width="0.8" />
<line x1="94.74" y1="380.50" x2="94.74" y2="381.80" stroke="#1a1a1a" stroke-width="0.8" />
<line x1="98.96" y1="380.50" x2="98.96" y2="381.80" stroke="#1a1a1a" stroke-width="0.8" />
<line x1="103.19" y1="380.50" x2="103.19" y2="381.80" stroke="#1a1a1a" stroke-width="0.8" />
<line x1="107.42" y1="380.50" x2="107.42" y2="383.30" stroke="#1a1a1a" stroke-width="0.9" />
<line x1="111.65" y1="380.50" x2="111.65" y2="381.80" stroke="#1a1a1a" stroke-width="0.8" />
<line x1="115.88" y1="380.50" x2="115.88" y2="381.80" stroke="#1a1a1a" stroke-width="0.8" />
<line x1="120.10" y1="380.50" x2="120.10" y2="381.80" stroke="#1a1a1a" stroke-width="0.8" />
<line x1="124.33" y1="380.50" x2="124.33" y2="381.80" stroke="#1a1a1a" stroke-width="0.8" />
<line x1="128.56" y1="380.50" x2="128.56" y2="383.30" stroke="#1a1a1a" stroke-width="0.9" />
<line x1="132.79" y1="380.50" x2="132.79" y2="381.80" stroke="#1a1a1a" stroke-width="0.8" />
<line x1="137.02" y1="380.50" x2="137.02" y2="381.80" stroke="#1a1a1a" stroke-width="0.8" />
<line x1="141.24" y1="380.50" x2="141.24" y2="381.80" stroke="#1a1a1a" stroke-width="0.8" />
<line x1="145.47" y1="380.50" x2="145.47" y2="381.80" stroke="#1a1a1a" stroke-width="0.8" />
<line x1="149.70" y1="380.50" x2="149.70" y2="383.30" stroke="#1a1a1a" stroke-width="0.9" />
<line x1="153.93" y1="380.50" x2="153.93" y2="381.80" stroke="#1a1a1a" stroke-width="0.8" />
<line x1="158.16" y1="380.50" x2="158.16" y2="381.80" stroke="#1a1a1a" stroke-width="0.8" />
<line x1="162.38" y1="380.50" x2="162.38" y2="381.80" stroke="#1a1a1a" stroke-width="0.8" />
<line x1="166.61" y1="380.50" x2="166.61" y2="381.80" stroke="#1a1a1a" stroke-width="0.8" />
<line x1="170.84" y1="380.50" x2="170.84" y2="383.30" stroke="#1a1a1a" stroke-width="0.9" />
<line x1="175.07" y1="380.50" x2="175.07" y2="381.80" stroke="#1a1a1a" stroke-width="0.8" />
<line x1="179.30" y1="380.50" x2="179.30" y2="381.80" stroke="#1a1a1a" stroke-width="0.8" />
<line x1="183.52" y1="380.50" x2="183.52" y2="381.80" stroke="#1a1a1a" stroke-width="0.8" />
<line x1="187.75" y1="380.50" x2="187.75" y2="381.80" stroke="#1a1a1a" stroke-width="0.8" />
<line x1="191.98" y1="380.50" x2="191.98" y2="383.30" stroke="#1a1a1a" stroke-width="0.9" />
<line x1="196.21" y1="380.50" x2="196.21" y2="381.80" stroke="#1a1a1a" stroke-width="0.8" />
<line x1="200.44" y1="380.50" x2="200.44" y2="381.80" stroke="#1a1a1a" stroke-width="0.8" />
<line x1="204.66" y1="380.50" x2="204.66" y2="381.80" stroke="#1a1a1a" stroke-width="0.8" />
<line x1="208.89" y1="380.50" x2="208.89" y2="381.80" stroke="#1a1a1a" stroke-width="0.8" />
<line x1="213.12" y1="380.50" x2="213.12" y2="383.30" stroke="#1a1a1a" stroke-width="0.9" />
<line x1="217.35" y1="380.50" x2="217.35" y2="381.80" stroke="#1a1a1a" stroke-width="0.8" />
<line x1="221.58" y1="380.50" x2="221.58" y2="381.80" stroke="#1a1a1a" stroke-width="0.8" />
<line x1="225.80" y1="380.50" x2="225.80" y2="381.80" stroke="#1a1a1a" stroke-width="0.8" />
<line x1="230.03" y1="380.50" x2="230.03" y2="381.80" stroke="#1a1a1a" stroke-width="0.8" />
<line x1="234.26" y1="380.50" x2="234.26" y2="383.30" stroke="#1a1a1a" stroke-width="0.9" />
<line x1="238.49" y1="380.50" x2="238.49" y2="381.80" stroke="#1a1a1a" stroke-width="0.8" />
<line x1="242.72" y1="380.50" x2="242.72" y2="381.80" stroke="#1a1a1a" stroke-width="0.8" />
<line x1="246.94" y1="380.50" x2="246.94" y2="381.80" stroke="#1a1a1a" stroke-width="0.8" />
<line x1="251.17" y1="380.50" x2="251.17" y2="381.80" stroke="#1a1a1a" stroke-width="0.8" />
<line x1="255.40" y1="380.50" x2="255.40" y2="383.30" stroke="#1a1a1a" stroke-width="0.9" />
<text transform="translate(44.00,393.50) scale(0.95,1)" font-size="8.0" text-anchor="middle" fill="#231f20">0</text>
<text transform="translate(65.14,393.50) scale(0.95,1)" font-size="8.0" text-anchor="middle" fill="#231f20">5</text>
<text transform="translate(86.28,393.50) scale(0.95,1)" font-size="8.0" text-anchor="middle" fill="#231f20">10</text>
<text transform="translate(107.42,393.50) scale(0.95,1)" font-size="8.0" text-anchor="middle" fill="#231f20">15</text>
<text transform="translate(128.56,393.50) scale(0.95,1)" font-size="8.0" text-anchor="middle" fill="#231f20">20</text>
<text transform="translate(149.70,393.50) scale(0.95,1)" font-size="8.0" text-anchor="middle" fill="#231f20">25</text>
<text transform="translate(170.84,393.50) scale(0.95,1)" font-size="8.0" text-anchor="middle" fill="#231f20">30</text>
<text transform="translate(191.98,393.50) scale(0.95,1)" font-size="8.0" text-anchor="middle" fill="#231f20">35</text>
<text transform="translate(213.12,393.50) scale(0.95,1)" font-size="8.0" text-anchor="middle" fill="#231f20">40</text>
<text transform="translate(234.26,393.50) scale(0.95,1)" font-size="8.0" text-anchor="middle" fill="#231f20">45</text>
<text transform="translate(255.40,393.50) scale(0.95,1)" font-size="8.0" text-anchor="middle" fill="#231f20">50</text>
<text transform="translate(149.30,406.30) scale(0.715,1)" font-size="9.2" text-anchor="middle" fill="#231f20">Time (d)</text>
<text transform="translate(19.3,310.4) rotate(-90) scale(0.71,1)" font-size="9.2" text-anchor="middle" fill="#231f20">Survival (%)</text>
<text x="114.20" y="232.70" font-size="7.0" text-anchor="start" fill="#231f20" textLength="46.4" lengthAdjust="spacingAndGlyphs">Treatment days</text>
<line x1="82.05" y1="235.90" x2="82.05" y2="241.80" stroke="#000" stroke-width="1.0" />
<polygon points="79.55,239.40 82.05,240.90 84.55,239.40 82.05,244.80" fill="#000"/>
<line x1="103.19" y1="235.90" x2="103.19" y2="241.80" stroke="#000" stroke-width="1.0" />
<polygon points="100.69,239.40 103.19,240.90 105.69,239.40 103.19,244.80" fill="#000"/>
<line x1="124.33" y1="235.90" x2="124.33" y2="241.80" stroke="#000" stroke-width="1.0" />
<polygon points="121.83,239.40 124.33,240.90 126.83,239.40 124.33,244.80" fill="#000"/>
<line x1="145.47" y1="235.90" x2="145.47" y2="241.80" stroke="#000" stroke-width="1.0" />
<polygon points="142.97,239.40 145.47,240.90 147.97,239.40 145.47,244.80" fill="#000"/>
<line x1="166.61" y1="235.90" x2="166.61" y2="241.80" stroke="#000" stroke-width="1.0" />
<polygon points="164.11,239.40 166.61,240.90 169.11,239.40 166.61,244.80" fill="#000"/>
<line x1="187.75" y1="235.90" x2="187.75" y2="241.80" stroke="#000" stroke-width="1.0" />
<polygon points="185.25,239.40 187.75,240.90 190.25,239.40 187.75,244.80" fill="#000"/>
<polyline points="187.75,246.90 187.75,246.90 187.75,260.26 196.21,260.26 196.21,286.98 204.66,286.98 204.66,327.06 208.89,327.06 208.89,340.42 217.35,340.42 217.35,367.14 225.80,367.14 225.80,380.50" fill="none" stroke="#2b4d8f" stroke-width="1.4" stroke-linejoin="miter" />
<circle cx="187.75" cy="260.26" r="1.20" fill="#2b4d8f" stroke="#2b4d8f" stroke-width="0.8"/>
<circle cx="196.21" cy="286.98" r="1.20" fill="#2b4d8f" stroke="#2b4d8f" stroke-width="0.8"/>
<circle cx="204.66" cy="327.06" r="1.20" fill="#2b4d8f" stroke="#2b4d8f" stroke-width="0.8"/>
<circle cx="208.89" cy="340.42" r="1.20" fill="#2b4d8f" stroke="#2b4d8f" stroke-width="0.8"/>
<circle cx="217.35" cy="367.14" r="1.20" fill="#2b4d8f" stroke="#2b4d8f" stroke-width="0.8"/>
<circle cx="225.80" cy="380.50" r="1.20" fill="#2b4d8f" stroke="#2b4d8f" stroke-width="0.8"/>
<polyline points="187.75,246.90 187.75,246.90 187.75,260.26 208.89,260.26 208.89,273.62 217.35,273.62 217.35,300.34 225.80,300.34 225.80,353.78 230.03,353.78 230.03,367.14 238.49,367.14 238.49,380.50" fill="none" stroke="#62b03f" stroke-width="1.4" stroke-linejoin="miter" />
<polygon points="187.75,258.58 189.15,260.26 187.75,261.94 186.35,260.26" fill="#62b03f" stroke="#62b03f" stroke-width="0.8"/>
<polygon points="208.89,271.94 210.29,273.62 208.89,275.30 207.49,273.62" fill="#62b03f" stroke="#62b03f" stroke-width="0.8"/>
<polygon points="217.35,298.66 218.75,300.34 217.35,302.02 215.95,300.34" fill="#62b03f" stroke="#62b03f" stroke-width="0.8"/>
<polygon points="225.80,352.10 227.20,353.78 225.80,355.46 224.40,353.78" fill="#62b03f" stroke="#62b03f" stroke-width="0.8"/>
<polygon points="230.03,365.46 231.43,367.14 230.03,368.82 228.63,367.14" fill="#62b03f" stroke="#62b03f" stroke-width="0.8"/>
<polygon points="238.49,378.82 239.89,380.50 238.49,382.18 237.09,380.50" fill="#62b03f" stroke="#62b03f" stroke-width="0.8"/>
<polyline points="170.84,246.90 204.66,246.90 204.66,273.62 230.03,273.62 230.03,300.34 234.26,300.34 234.26,353.78 238.49,353.78 238.49,380.50" fill="none" stroke="#ad1238" stroke-width="1.4" stroke-linejoin="miter" />
<polygon points="204.66,271.86 206.26,274.90 203.06,274.90" fill="#ad1238" stroke="#ad1238" stroke-width="0.4"/>
<polygon points="230.03,298.58 231.63,301.62 228.43,301.62" fill="#ad1238" stroke="#ad1238" stroke-width="0.4"/>
<polygon points="234.26,352.02 235.86,355.06 232.66,355.06" fill="#ad1238" stroke="#ad1238" stroke-width="0.4"/>
<polygon points="238.49,378.74 240.09,381.78 236.89,381.78" fill="#ad1238" stroke="#ad1238" stroke-width="0.4"/>
<polyline points="44.00,246.90 170.84,246.90 170.84,260.26 179.30,260.26 179.30,286.98 183.52,286.98 183.52,313.70 196.21,313.70 196.21,327.06 200.44,327.06 200.44,367.14 204.66,367.14 204.66,380.50" fill="none" stroke="#333f5e" stroke-width="1.4" stroke-linejoin="miter" />
<rect x="169.54" y="258.96" width="2.60" height="2.60" fill="#59627d" stroke="#333f5e" stroke-width="0.8"/>
<rect x="178.00" y="285.68" width="2.60" height="2.60" fill="#59627d" stroke="#333f5e" stroke-width="0.8"/>
<rect x="182.22" y="312.40" width="2.60" height="2.60" fill="#59627d" stroke="#333f5e" stroke-width="0.8"/>
<rect x="194.91" y="325.76" width="2.60" height="2.60" fill="#59627d" stroke="#333f5e" stroke-width="0.8"/>
<rect x="199.14" y="365.84" width="2.60" height="2.60" fill="#59627d" stroke="#333f5e" stroke-width="0.8"/>
<rect x="203.36" y="379.20" width="2.60" height="2.60" fill="#59627d" stroke="#333f5e" stroke-width="0.8"/>
<polyline points="44.00,246.90 170.84,246.90 170.84,273.62 179.30,273.62 179.30,300.34 183.52,300.34 183.52,353.78 204.66,353.78 204.66,380.50" fill="none" stroke="#c4c4c4" stroke-width="1.3" stroke-linejoin="miter" stroke-dasharray="2.6 2.6"/>
<circle cx="170.84" cy="273.62" r="1.40" fill="#c4c4c4" stroke="#c4c4c4" stroke-width="0.8"/>
<circle cx="179.30" cy="300.34" r="1.40" fill="#c4c4c4" stroke="#c4c4c4" stroke-width="0.8"/>
<circle cx="183.52" cy="353.78" r="1.40" fill="#c4c4c4" stroke="#c4c4c4" stroke-width="0.8"/>
<circle cx="204.66" cy="380.50" r="1.40" fill="#c4c4c4" stroke="#c4c4c4" stroke-width="0.8"/>
<line x1="48.90" y1="322.20" x2="56.40" y2="322.20" stroke="#c4c4c4" stroke-width="1.0" />
<circle cx="52.50" cy="322.20" r="1.40" fill="#c4c4c4" stroke="#c4c4c4" stroke-width="0.6"/>
<text transform="translate(59.00,324.70) scale(0.955,1)" font-size="7.6" fill="#231f20">Vehicle</text>
<line x1="48.90" y1="333.00" x2="56.40" y2="333.00" stroke="#333f5e" stroke-width="1.0" />
<rect x="51.10" y="331.60" width="2.80" height="2.80" fill="#8c96b0" stroke="#333f5e" stroke-width="0.6"/>
<text transform="translate(59.00,335.50) scale(0.955,1)" font-size="7.6" fill="#231f20">Vehicle + T cells</text>
<line x1="48.90" y1="343.80" x2="56.40" y2="343.80" stroke="#ad1238" stroke-width="1.0" />
<polygon points="52.50,342.26 53.90,344.92 51.10,344.92" fill="#ad1238" stroke="#ad1238" stroke-width="0.3"/>
<text transform="translate(59.00,346.30) scale(0.955,1)" font-size="7.6" fill="#231f20">0.5 mg/kg</text>
<ellipse cx="92.60" cy="343.50" rx="0.95" ry="0.9" fill="#ad1238"/>
<ellipse cx="95.30" cy="343.50" rx="0.95" ry="0.9" fill="#ad1238"/>
<ellipse cx="98.00" cy="343.50" rx="0.95" ry="0.9" fill="#ad1238"/>
<line x1="48.90" y1="354.60" x2="56.40" y2="354.60" stroke="#62b03f" stroke-width="1.0" />
<polygon points="52.50,352.92 53.90,354.60 52.50,356.28 51.10,354.60" fill="#62b03f" stroke="#62b03f" stroke-width="0.6"/>
<text transform="translate(59.00,357.10) scale(0.955,1)" font-size="7.6" fill="#231f20">0.05 mg/kg</text>
<ellipse cx="96.80" cy="354.30" rx="0.95" ry="0.9" fill="#62b03f"/>
<ellipse cx="99.50" cy="354.30" rx="0.95" ry="0.9" fill="#62b03f"/>
<ellipse cx="102.20" cy="354.30" rx="0.95" ry="0.9" fill="#62b03f"/>
<line x1="48.90" y1="365.40" x2="56.40" y2="365.40" stroke="#2b4d8f" stroke-width="1.0" />
<circle cx="52.50" cy="365.40" r="1.40" fill="#2b4d8f" stroke="#2b4d8f" stroke-width="0.6"/>
<text transform="translate(59.00,367.90) scale(0.955,1)" font-size="7.6" fill="#231f20">0.005 mg/kg</text>
<ellipse cx="100.90" cy="365.10" rx="0.95" ry="0.9" fill="#2b4d8f"/>
<ellipse cx="103.60" cy="365.10" rx="0.95" ry="0.9" fill="#2b4d8f"/>
<text x="269.30" y="221.20" font-size="11.2" text-anchor="start" fill="#000" font-weight="bold">D</text>
<line x1="306.50" y1="243.20" x2="306.50" y2="381.10" stroke="#1a1a1a" stroke-width="1.1" />
<line x1="305.90" y1="380.50" x2="511.80" y2="380.50" stroke="#1a1a1a" stroke-width="1.25" />
<line x1="303.20" y1="380.45" x2="306.50" y2="380.45" stroke="#1a1a1a" stroke-width="1" />
<text transform="translate(300.20,382.85) scale(0.95,1)" font-size="8.0" text-anchor="end" fill="#231f20">0</text>
<line x1="304.90" y1="365.50" x2="306.50" y2="365.50" stroke="#1a1a1a" stroke-width="0.8" />
<line x1="303.20" y1="350.55" x2="306.50" y2="350.55" stroke="#1a1a1a" stroke-width="1" />
<text transform="translate(300.20,352.95) scale(0.95,1)" font-size="8.0" text-anchor="end" fill="#231f20">200</text>
<line x1="304.90" y1="335.60" x2="306.50" y2="335.60" stroke="#1a1a1a" stroke-width="0.8" />
<line x1="303.20" y1="320.65" x2="306.50" y2="320.65" stroke="#1a1a1a" stroke-width="1" />
<text transform="translate(300.20,323.05) scale(0.95,1)" font-size="8.0" text-anchor="end" fill="#231f20">400</text>
<line x1="304.90" y1="305.70" x2="306.50" y2="305.70" stroke="#1a1a1a" stroke-width="0.8" />
<line x1="303.20" y1="290.75" x2="306.50" y2="290.75" stroke="#1a1a1a" stroke-width="1" />
<text transform="translate(300.20,293.15) scale(0.95,1)" font-size="8.0" text-anchor="end" fill="#231f20">600</text>
<line x1="304.90" y1="275.80" x2="306.50" y2="275.80" stroke="#1a1a1a" stroke-width="0.8" />
<line x1="303.20" y1="260.85" x2="306.50" y2="260.85" stroke="#1a1a1a" stroke-width="1" />
<text transform="translate(300.20,263.25) scale(0.95,1)" font-size="8.0" text-anchor="end" fill="#231f20">800</text>
<line x1="304.90" y1="245.90" x2="306.50" y2="245.90" stroke="#1a1a1a" stroke-width="0.8" />
<line x1="306.30" y1="380.50" x2="306.30" y2="383.50" stroke="#1a1a1a" stroke-width="0.9" />
<line x1="323.18" y1="380.50" x2="323.18" y2="382.00" stroke="#1a1a1a" stroke-width="0.9" />
<line x1="340.05" y1="380.50" x2="340.05" y2="383.50" stroke="#1a1a1a" stroke-width="0.9" />
<line x1="356.93" y1="380.50" x2="356.93" y2="382.00" stroke="#1a1a1a" stroke-width="0.9" />
<line x1="373.80" y1="380.50" x2="373.80" y2="383.50" stroke="#1a1a1a" stroke-width="0.9" />
<line x1="390.68" y1="380.50" x2="390.68" y2="382.00" stroke="#1a1a1a" stroke-width="0.9" />
<line x1="407.55" y1="380.50" x2="407.55" y2="383.50" stroke="#1a1a1a" stroke-width="0.9" />
<line x1="424.43" y1="380.50" x2="424.43" y2="382.00" stroke="#1a1a1a" stroke-width="0.9" />
<line x1="441.30" y1="380.50" x2="441.30" y2="383.50" stroke="#1a1a1a" stroke-width="0.9" />
<line x1="458.18" y1="380.50" x2="458.18" y2="382.00" stroke="#1a1a1a" stroke-width="0.9" />
<line x1="475.05" y1="380.50" x2="475.05" y2="383.50" stroke="#1a1a1a" stroke-width="0.9" />
<line x1="491.93" y1="380.50" x2="491.93" y2="382.00" stroke="#1a1a1a" stroke-width="0.9" />
<line x1="508.80" y1="380.50" x2="508.80" y2="383.50" stroke="#1a1a1a" stroke-width="0.9" />
<text transform="translate(306.30,393.50) scale(0.95,1)" font-size="8.0" text-anchor="middle" fill="#231f20">0</text>
<text transform="translate(340.05,393.50) scale(0.95,1)" font-size="8.0" text-anchor="middle" fill="#231f20">5</text>
<text transform="translate(373.80,393.50) scale(0.95,1)" font-size="8.0" text-anchor="middle" fill="#231f20">10</text>
<text transform="translate(407.55,393.50) scale(0.95,1)" font-size="8.0" text-anchor="middle" fill="#231f20">15</text>
<text transform="translate(441.30,393.50) scale(0.95,1)" font-size="8.0" text-anchor="middle" fill="#231f20">20</text>
<text transform="translate(475.05,393.50) scale(0.95,1)" font-size="8.0" text-anchor="middle" fill="#231f20">25</text>
<text transform="translate(508.80,393.50) scale(0.95,1)" font-size="8.0" text-anchor="middle" fill="#231f20">30</text>
<text transform="translate(407.30,406.20) scale(0.715,1)" font-size="9.2" text-anchor="middle" fill="#231f20">Time (d)</text>
<text transform="translate(280.30,343.50) rotate(-90) scale(0.67,1)" font-size="9.2" fill="#231f20">Tumor volume</text>
<text transform="translate(280.30,301.60) rotate(-90) scale(0.74,1)" font-size="9.2" fill="#231f20">(mm<tspan font-size="5.8" dy="-3.6">3</tspan><tspan dy="3.6">)</tspan></text>
<text x="414.80" y="245.80" font-size="7.0" text-anchor="start" fill="#231f20" textLength="30" lengthAdjust="spacingAndGlyphs">Treatment</text>
<line x1="407.55" y1="249.60" x2="407.55" y2="257.20" stroke="#000" stroke-width="1.0" />
<polygon points="405.05,254.80 407.55,256.30 410.05,254.80 407.55,260.20" fill="#000"/>
<line x1="454.80" y1="249.60" x2="454.80" y2="257.20" stroke="#000" stroke-width="1.0" />
<polygon points="452.30,254.80 454.80,256.30 457.30,254.80 454.80,260.20" fill="#000"/>
<polyline points="400.80,354.89 421.05,343.82 434.55,327.83 454.80,308.69 475.05,289.25 495.30,272.81" fill="none" stroke="#c8c8c8" stroke-width="0.9" stroke-linejoin="miter" stroke-dasharray="2 1.5"/>
<line x1="421.05" y1="341.58" x2="421.05" y2="345.32" stroke="#c8c8c8" stroke-width="0.8" />
<line x1="419.45" y1="341.58" x2="422.65" y2="341.58" stroke="#c8c8c8" stroke-width="0.8" />
<line x1="419.45" y1="345.32" x2="422.65" y2="345.32" stroke="#c8c8c8" stroke-width="0.8" />
<line x1="434.55" y1="325.13" x2="434.55" y2="329.62" stroke="#c8c8c8" stroke-width="0.8" />
<line x1="432.95" y1="325.13" x2="436.15" y2="325.13" stroke="#c8c8c8" stroke-width="0.8" />
<line x1="432.95" y1="329.62" x2="436.15" y2="329.62" stroke="#c8c8c8" stroke-width="0.8" />
<line x1="454.80" y1="302.71" x2="454.80" y2="312.43" stroke="#c8c8c8" stroke-width="0.8" />
<line x1="453.20" y1="302.71" x2="456.40" y2="302.71" stroke="#c8c8c8" stroke-width="0.8" />
<line x1="453.20" y1="312.43" x2="456.40" y2="312.43" stroke="#c8c8c8" stroke-width="0.8" />
<line x1="475.05" y1="284.77" x2="475.05" y2="294.49" stroke="#c8c8c8" stroke-width="0.8" />
<line x1="473.45" y1="284.77" x2="476.65" y2="284.77" stroke="#c8c8c8" stroke-width="0.8" />
<line x1="473.45" y1="294.49" x2="476.65" y2="294.49" stroke="#c8c8c8" stroke-width="0.8" />
<line x1="495.30" y1="266.83" x2="495.30" y2="278.79" stroke="#c8c8c8" stroke-width="0.8" />
<line x1="493.70" y1="266.83" x2="496.90" y2="266.83" stroke="#c8c8c8" stroke-width="0.8" />
<line x1="493.70" y1="278.79" x2="496.90" y2="278.79" stroke="#c8c8c8" stroke-width="0.8" />
<polygon points="421.05,341.42 423.05,343.82 421.05,346.22 419.05,343.82" fill="#fff" stroke="#c8c8c8" stroke-width="0.8"/>
<polygon points="434.55,325.43 436.55,327.83 434.55,330.23 432.55,327.83" fill="#fff" stroke="#c8c8c8" stroke-width="0.8"/>
<polygon points="454.80,306.29 456.80,308.69 454.80,311.09 452.80,308.69" fill="#fff" stroke="#c8c8c8" stroke-width="0.8"/>
<polygon points="475.05,286.86 477.05,289.25 475.05,291.65 473.05,289.25" fill="#fff" stroke="#c8c8c8" stroke-width="0.8"/>
<polygon points="495.30,270.41 497.30,272.81 495.30,275.21 493.30,272.81" fill="#fff" stroke="#c8c8c8" stroke-width="0.8"/>
<polyline points="400.80,354.89 421.05,343.07 434.55,326.63 454.80,306.45 475.05,278.79 495.30,258.61" fill="none" stroke="#333f5e" stroke-width="1.0" stroke-linejoin="miter" stroke-dasharray="2.6 1.8"/>
<line x1="421.05" y1="340.83" x2="421.05" y2="345.32" stroke="#333f5e" stroke-width="0.8" />
<line x1="419.45" y1="340.83" x2="422.65" y2="340.83" stroke="#333f5e" stroke-width="0.8" />
<line x1="419.45" y1="345.32" x2="422.65" y2="345.32" stroke="#333f5e" stroke-width="0.8" />
<line x1="434.55" y1="323.64" x2="434.55" y2="328.87" stroke="#333f5e" stroke-width="0.8" />
<line x1="432.95" y1="323.64" x2="436.15" y2="323.64" stroke="#333f5e" stroke-width="0.8" />
<line x1="432.95" y1="328.87" x2="436.15" y2="328.87" stroke="#333f5e" stroke-width="0.8" />
<line x1="454.80" y1="301.96" x2="454.80" y2="311.68" stroke="#333f5e" stroke-width="0.8" />
<line x1="453.20" y1="301.96" x2="456.40" y2="301.96" stroke="#333f5e" stroke-width="0.8" />
<line x1="453.20" y1="311.68" x2="456.40" y2="311.68" stroke="#333f5e" stroke-width="0.8" />
<line x1="475.05" y1="274.31" x2="475.05" y2="282.53" stroke="#333f5e" stroke-width="0.8" />
<line x1="473.45" y1="274.31" x2="476.65" y2="274.31" stroke="#333f5e" stroke-width="0.8" />
<line x1="473.45" y1="282.53" x2="476.65" y2="282.53" stroke="#333f5e" stroke-width="0.8" />
<line x1="495.30" y1="252.63" x2="495.30" y2="264.59" stroke="#333f5e" stroke-width="0.8" />
<line x1="493.70" y1="252.63" x2="496.90" y2="252.63" stroke="#333f5e" stroke-width="0.8" />
<line x1="493.70" y1="264.59" x2="496.90" y2="264.59" stroke="#333f5e" stroke-width="0.8" />
<rect x="419.40" y="341.43" width="3.30" height="3.30" fill="#e4e4e4" stroke="#333f5e" stroke-width="0.8"/>
<rect x="432.90" y="324.98" width="3.30" height="3.30" fill="#e4e4e4" stroke="#333f5e" stroke-width="0.8"/>
<rect x="453.15" y="304.80" width="3.30" height="3.30" fill="#e4e4e4" stroke="#333f5e" stroke-width="0.8"/>
<rect x="473.40" y="277.14" width="3.30" height="3.30" fill="#e4e4e4" stroke="#333f5e" stroke-width="0.8"/>
<rect x="493.65" y="256.96" width="3.30" height="3.30" fill="#e4e4e4" stroke="#333f5e" stroke-width="0.8"/>
<polyline points="340.05,373.72 360.30,368.19 380.55,364.45 400.80,354.89 421.05,349.50 434.55,345.62 454.80,327.53 475.05,316.16 495.30,306.15" fill="none" stroke="#2b4d8f" stroke-width="1.2" stroke-linejoin="miter" />
<line x1="454.80" y1="322.89" x2="454.80" y2="331.12" stroke="#2b4d8f" stroke-width="1.0" />
<line x1="453.10" y1="322.89" x2="456.50" y2="322.89" stroke="#2b4d8f" stroke-width="1.0" />
<line x1="453.10" y1="331.12" x2="456.50" y2="331.12" stroke="#2b4d8f" stroke-width="1.0" />
<line x1="475.05" y1="309.44" x2="475.05" y2="321.40" stroke="#2b4d8f" stroke-width="1.0" />
<line x1="473.35" y1="309.44" x2="476.75" y2="309.44" stroke="#2b4d8f" stroke-width="1.0" />
<line x1="473.35" y1="321.40" x2="476.75" y2="321.40" stroke="#2b4d8f" stroke-width="1.0" />
<line x1="495.30" y1="296.73" x2="495.30" y2="310.93" stroke="#2b4d8f" stroke-width="1.0" />
<line x1="493.60" y1="296.73" x2="497.00" y2="296.73" stroke="#2b4d8f" stroke-width="1.0" />
<line x1="493.60" y1="310.93" x2="497.00" y2="310.93" stroke="#2b4d8f" stroke-width="1.0" />
<circle cx="340.05" cy="373.72" r="1.70" fill="#2b4d8f" stroke="#2b4d8f" stroke-width="0"/>
<circle cx="360.30" cy="368.19" r="1.70" fill="#2b4d8f" stroke="#2b4d8f" stroke-width="0"/>
<circle cx="380.55" cy="364.45" r="1.70" fill="#2b4d8f" stroke="#2b4d8f" stroke-width="0"/>
<circle cx="400.80" cy="354.89" r="1.70" fill="#2b4d8f" stroke="#2b4d8f" stroke-width="0"/>
<circle cx="421.05" cy="349.50" r="1.70" fill="#2b4d8f" stroke="#2b4d8f" stroke-width="0"/>
<circle cx="434.55" cy="345.62" r="1.70" fill="#2b4d8f" stroke="#2b4d8f" stroke-width="0"/>
<circle cx="454.80" cy="327.53" r="1.70" fill="#2b4d8f" stroke="#2b4d8f" stroke-width="0"/>
<circle cx="475.05" cy="316.16" r="1.70" fill="#2b4d8f" stroke="#2b4d8f" stroke-width="0"/>
<circle cx="495.30" cy="306.15" r="1.70" fill="#2b4d8f" stroke="#2b4d8f" stroke-width="0"/>
<polyline points="340.05,374.47 360.30,367.59 380.55,364.00 400.80,354.89 421.05,352.79 434.55,355.78 454.80,347.86 475.05,323.34 495.30,309.89" fill="none" stroke="#62b03f" stroke-width="1.2" stroke-linejoin="miter" />
<line x1="434.55" y1="352.05" x2="434.55" y2="359.52" stroke="#62b03f" stroke-width="1.0" />
<line x1="432.85" y1="352.05" x2="436.25" y2="352.05" stroke="#62b03f" stroke-width="1.0" />
<line x1="432.85" y1="359.52" x2="436.25" y2="359.52" stroke="#62b03f" stroke-width="1.0" />
<line x1="454.80" y1="343.82" x2="454.80" y2="351.30" stroke="#62b03f" stroke-width="1.0" />
<line x1="453.10" y1="343.82" x2="456.50" y2="343.82" stroke="#62b03f" stroke-width="1.0" />
<line x1="453.10" y1="351.30" x2="456.50" y2="351.30" stroke="#62b03f" stroke-width="1.0" />
<line x1="475.05" y1="319.15" x2="475.05" y2="327.38" stroke="#62b03f" stroke-width="1.0" />
<line x1="473.35" y1="319.15" x2="476.75" y2="319.15" stroke="#62b03f" stroke-width="1.0" />
<line x1="473.35" y1="327.38" x2="476.75" y2="327.38" stroke="#62b03f" stroke-width="1.0" />
<line x1="495.30" y1="301.96" x2="495.30" y2="314.67" stroke="#62b03f" stroke-width="1.0" />
<line x1="493.60" y1="301.96" x2="497.00" y2="301.96" stroke="#62b03f" stroke-width="1.0" />
<line x1="493.60" y1="314.67" x2="497.00" y2="314.67" stroke="#62b03f" stroke-width="1.0" />
<circle cx="340.05" cy="374.47" r="2.10" fill="#62b03f" stroke="#62b03f" stroke-width="0"/>
<circle cx="360.30" cy="367.59" r="2.10" fill="#62b03f" stroke="#62b03f" stroke-width="0"/>
<circle cx="380.55" cy="364.00" r="2.10" fill="#62b03f" stroke="#62b03f" stroke-width="0"/>
<circle cx="400.80" cy="354.89" r="2.10" fill="#62b03f" stroke="#62b03f" stroke-width="0"/>
<circle cx="421.05" cy="352.79" r="2.10" fill="#62b03f" stroke="#62b03f" stroke-width="0"/>
<circle cx="434.55" cy="355.78" r="2.10" fill="#62b03f" stroke="#62b03f" stroke-width="0"/>
<circle cx="454.80" cy="347.86" r="2.10" fill="#62b03f" stroke="#62b03f" stroke-width="0"/>
<circle cx="475.05" cy="323.34" r="2.10" fill="#62b03f" stroke="#62b03f" stroke-width="0"/>
<circle cx="495.30" cy="309.89" r="2.10" fill="#62b03f" stroke="#62b03f" stroke-width="0"/>
<polyline points="340.05,373.72 360.30,368.19 380.55,364.45 400.80,354.89 421.05,356.53 434.55,359.52 454.80,356.53 475.05,332.61 495.30,316.61" fill="none" stroke="#ad1238" stroke-width="1.2" stroke-linejoin="miter" />
<line x1="421.05" y1="353.54" x2="421.05" y2="360.57" stroke="#ad1238" stroke-width="1.0" />
<line x1="419.35" y1="353.54" x2="422.75" y2="353.54" stroke="#ad1238" stroke-width="1.0" />
<line x1="419.35" y1="360.57" x2="422.75" y2="360.57" stroke="#ad1238" stroke-width="1.0" />
<line x1="434.55" y1="355.03" x2="434.55" y2="364.30" stroke="#ad1238" stroke-width="1.0" />
<line x1="432.85" y1="355.03" x2="436.25" y2="355.03" stroke="#ad1238" stroke-width="1.0" />
<line x1="432.85" y1="364.30" x2="436.25" y2="364.30" stroke="#ad1238" stroke-width="1.0" />
<line x1="454.80" y1="351.30" x2="454.80" y2="361.76" stroke="#ad1238" stroke-width="1.0" />
<line x1="453.10" y1="351.30" x2="456.50" y2="351.30" stroke="#ad1238" stroke-width="1.0" />
<line x1="453.10" y1="361.76" x2="456.50" y2="361.76" stroke="#ad1238" stroke-width="1.0" />
<line x1="475.05" y1="328.12" x2="475.05" y2="337.09" stroke="#ad1238" stroke-width="1.0" />
<line x1="473.35" y1="328.12" x2="476.75" y2="328.12" stroke="#ad1238" stroke-width="1.0" />
<line x1="473.35" y1="337.09" x2="476.75" y2="337.09" stroke="#ad1238" stroke-width="1.0" />
<line x1="495.30" y1="308.69" x2="495.30" y2="325.88" stroke="#ad1238" stroke-width="1.0" />
<line x1="493.60" y1="308.69" x2="497.00" y2="308.69" stroke="#ad1238" stroke-width="1.0" />
<line x1="493.60" y1="325.88" x2="497.00" y2="325.88" stroke="#ad1238" stroke-width="1.0" />
<circle cx="340.05" cy="373.72" r="2.40" fill="#ad1238" stroke="#ad1238" stroke-width="0"/>
<circle cx="360.30" cy="368.19" r="2.40" fill="#ad1238" stroke="#ad1238" stroke-width="0"/>
<circle cx="380.55" cy="364.45" r="2.40" fill="#ad1238" stroke="#ad1238" stroke-width="0"/>
<circle cx="400.80" cy="354.89" r="2.40" fill="#ad1238" stroke="#ad1238" stroke-width="0"/>
<circle cx="421.05" cy="356.53" r="2.40" fill="#ad1238" stroke="#ad1238" stroke-width="0"/>
<circle cx="434.55" cy="359.52" r="2.40" fill="#ad1238" stroke="#ad1238" stroke-width="0"/>
<circle cx="454.80" cy="356.53" r="2.40" fill="#ad1238" stroke="#ad1238" stroke-width="0"/>
<circle cx="475.05" cy="332.61" r="2.40" fill="#ad1238" stroke="#ad1238" stroke-width="0"/>
<circle cx="495.30" cy="316.61" r="2.40" fill="#ad1238" stroke="#ad1238" stroke-width="0"/>
<ellipse cx="469.40" cy="306.00" rx="0.85" ry="1.05" fill="#2b4d8f"/>
<ellipse cx="472.25" cy="306.00" rx="0.85" ry="1.05" fill="#2b4d8f"/>
<ellipse cx="475.10" cy="306.00" rx="0.85" ry="1.05" fill="#2b4d8f"/>
<ellipse cx="477.95" cy="306.00" rx="0.85" ry="1.05" fill="#2b4d8f"/>
<ellipse cx="491.80" cy="292.20" rx="0.85" ry="1.05" fill="#2b4d8f"/>
<ellipse cx="494.65" cy="292.20" rx="0.85" ry="1.05" fill="#2b4d8f"/>
<ellipse cx="497.50" cy="292.20" rx="0.85" ry="1.05" fill="#2b4d8f"/>
<ellipse cx="489.60" cy="334.20" rx="0.85" ry="1.05" fill="#62b03f"/>
<ellipse cx="492.45" cy="334.20" rx="0.85" ry="1.05" fill="#62b03f"/>
<ellipse cx="495.30" cy="334.20" rx="0.85" ry="1.05" fill="#62b03f"/>
<ellipse cx="498.15" cy="334.20" rx="0.85" ry="1.05" fill="#62b03f"/>
<ellipse cx="489.60" cy="340.60" rx="0.85" ry="1.05" fill="#ad1238"/>
<ellipse cx="492.45" cy="340.60" rx="0.85" ry="1.05" fill="#ad1238"/>
<ellipse cx="495.30" cy="340.60" rx="0.85" ry="1.05" fill="#ad1238"/>
<ellipse cx="498.15" cy="340.60" rx="0.85" ry="1.05" fill="#ad1238"/>
<ellipse cx="469.70" cy="346.80" rx="0.85" ry="1.05" fill="#62b03f"/>
<ellipse cx="472.55" cy="346.80" rx="0.85" ry="1.05" fill="#62b03f"/>
<ellipse cx="475.40" cy="346.80" rx="0.85" ry="1.05" fill="#62b03f"/>
<ellipse cx="478.25" cy="346.80" rx="0.85" ry="1.05" fill="#62b03f"/>
<ellipse cx="469.70" cy="354.40" rx="0.85" ry="1.05" fill="#ad1238"/>
<ellipse cx="472.55" cy="354.40" rx="0.85" ry="1.05" fill="#ad1238"/>
<ellipse cx="475.40" cy="354.40" rx="0.85" ry="1.05" fill="#ad1238"/>
<ellipse cx="478.25" cy="354.40" rx="0.85" ry="1.05" fill="#ad1238"/>
<line x1="311.50" y1="255.80" x2="320.00" y2="255.80" stroke="#c8c8c8" stroke-width="1.0" stroke-dasharray="1.5 1.5"/>
<polygon points="315.80,253.64 317.60,255.80 315.80,257.96 314.00,255.80" fill="#e8e8e8" stroke="#c8c8c8" stroke-width="0.8"/>
<text transform="translate(322.80,258.40) scale(0.955,1)" font-size="7.6" fill="#231f20">Vehicle</text>
<line x1="311.50" y1="266.75" x2="320.00" y2="266.75" stroke="#333f5e" stroke-width="1.0" stroke-dasharray="1.5 1.5"/>
<rect x="314.10" y="265.05" width="3.40" height="3.40" fill="#8c96b0" stroke="#333f5e" stroke-width="0.8"/>
<text transform="translate(322.80,269.35) scale(0.955,1)" font-size="7.6" fill="#231f20">Vehicle + T cells</text>
<line x1="311.50" y1="277.70" x2="320.00" y2="277.70" stroke="#ad1238" stroke-width="1.0" />
<circle cx="315.80" cy="277.70" r="2.40" fill="#ad1238" stroke="#ad1238" stroke-width="0"/>
<text transform="translate(322.80,280.30) scale(0.955,1)" font-size="7.6" fill="#231f20">0.25 mg/kg</text>
<line x1="311.50" y1="288.65" x2="320.00" y2="288.65" stroke="#62b03f" stroke-width="1.0" />
<circle cx="315.80" cy="288.65" r="2.10" fill="#62b03f" stroke="#62b03f" stroke-width="0"/>
<text transform="translate(322.80,291.25) scale(0.955,1)" font-size="7.6" fill="#231f20">0.05 mg/kg</text>
<line x1="311.50" y1="299.60" x2="320.00" y2="299.60" stroke="#2b4d8f" stroke-width="1.0" />
<circle cx="315.80" cy="299.60" r="1.70" fill="#2b4d8f" stroke="#2b4d8f" stroke-width="0"/>
<text transform="translate(322.80,302.20) scale(0.955,1)" font-size="7.6" fill="#231f20">0.01 mg/kg</text>
<rect x="0.7" y="0.7" width="518.6" height="413.6" fill="none" stroke="#111" stroke-width="1.4"/>
</svg>
</body></html>
